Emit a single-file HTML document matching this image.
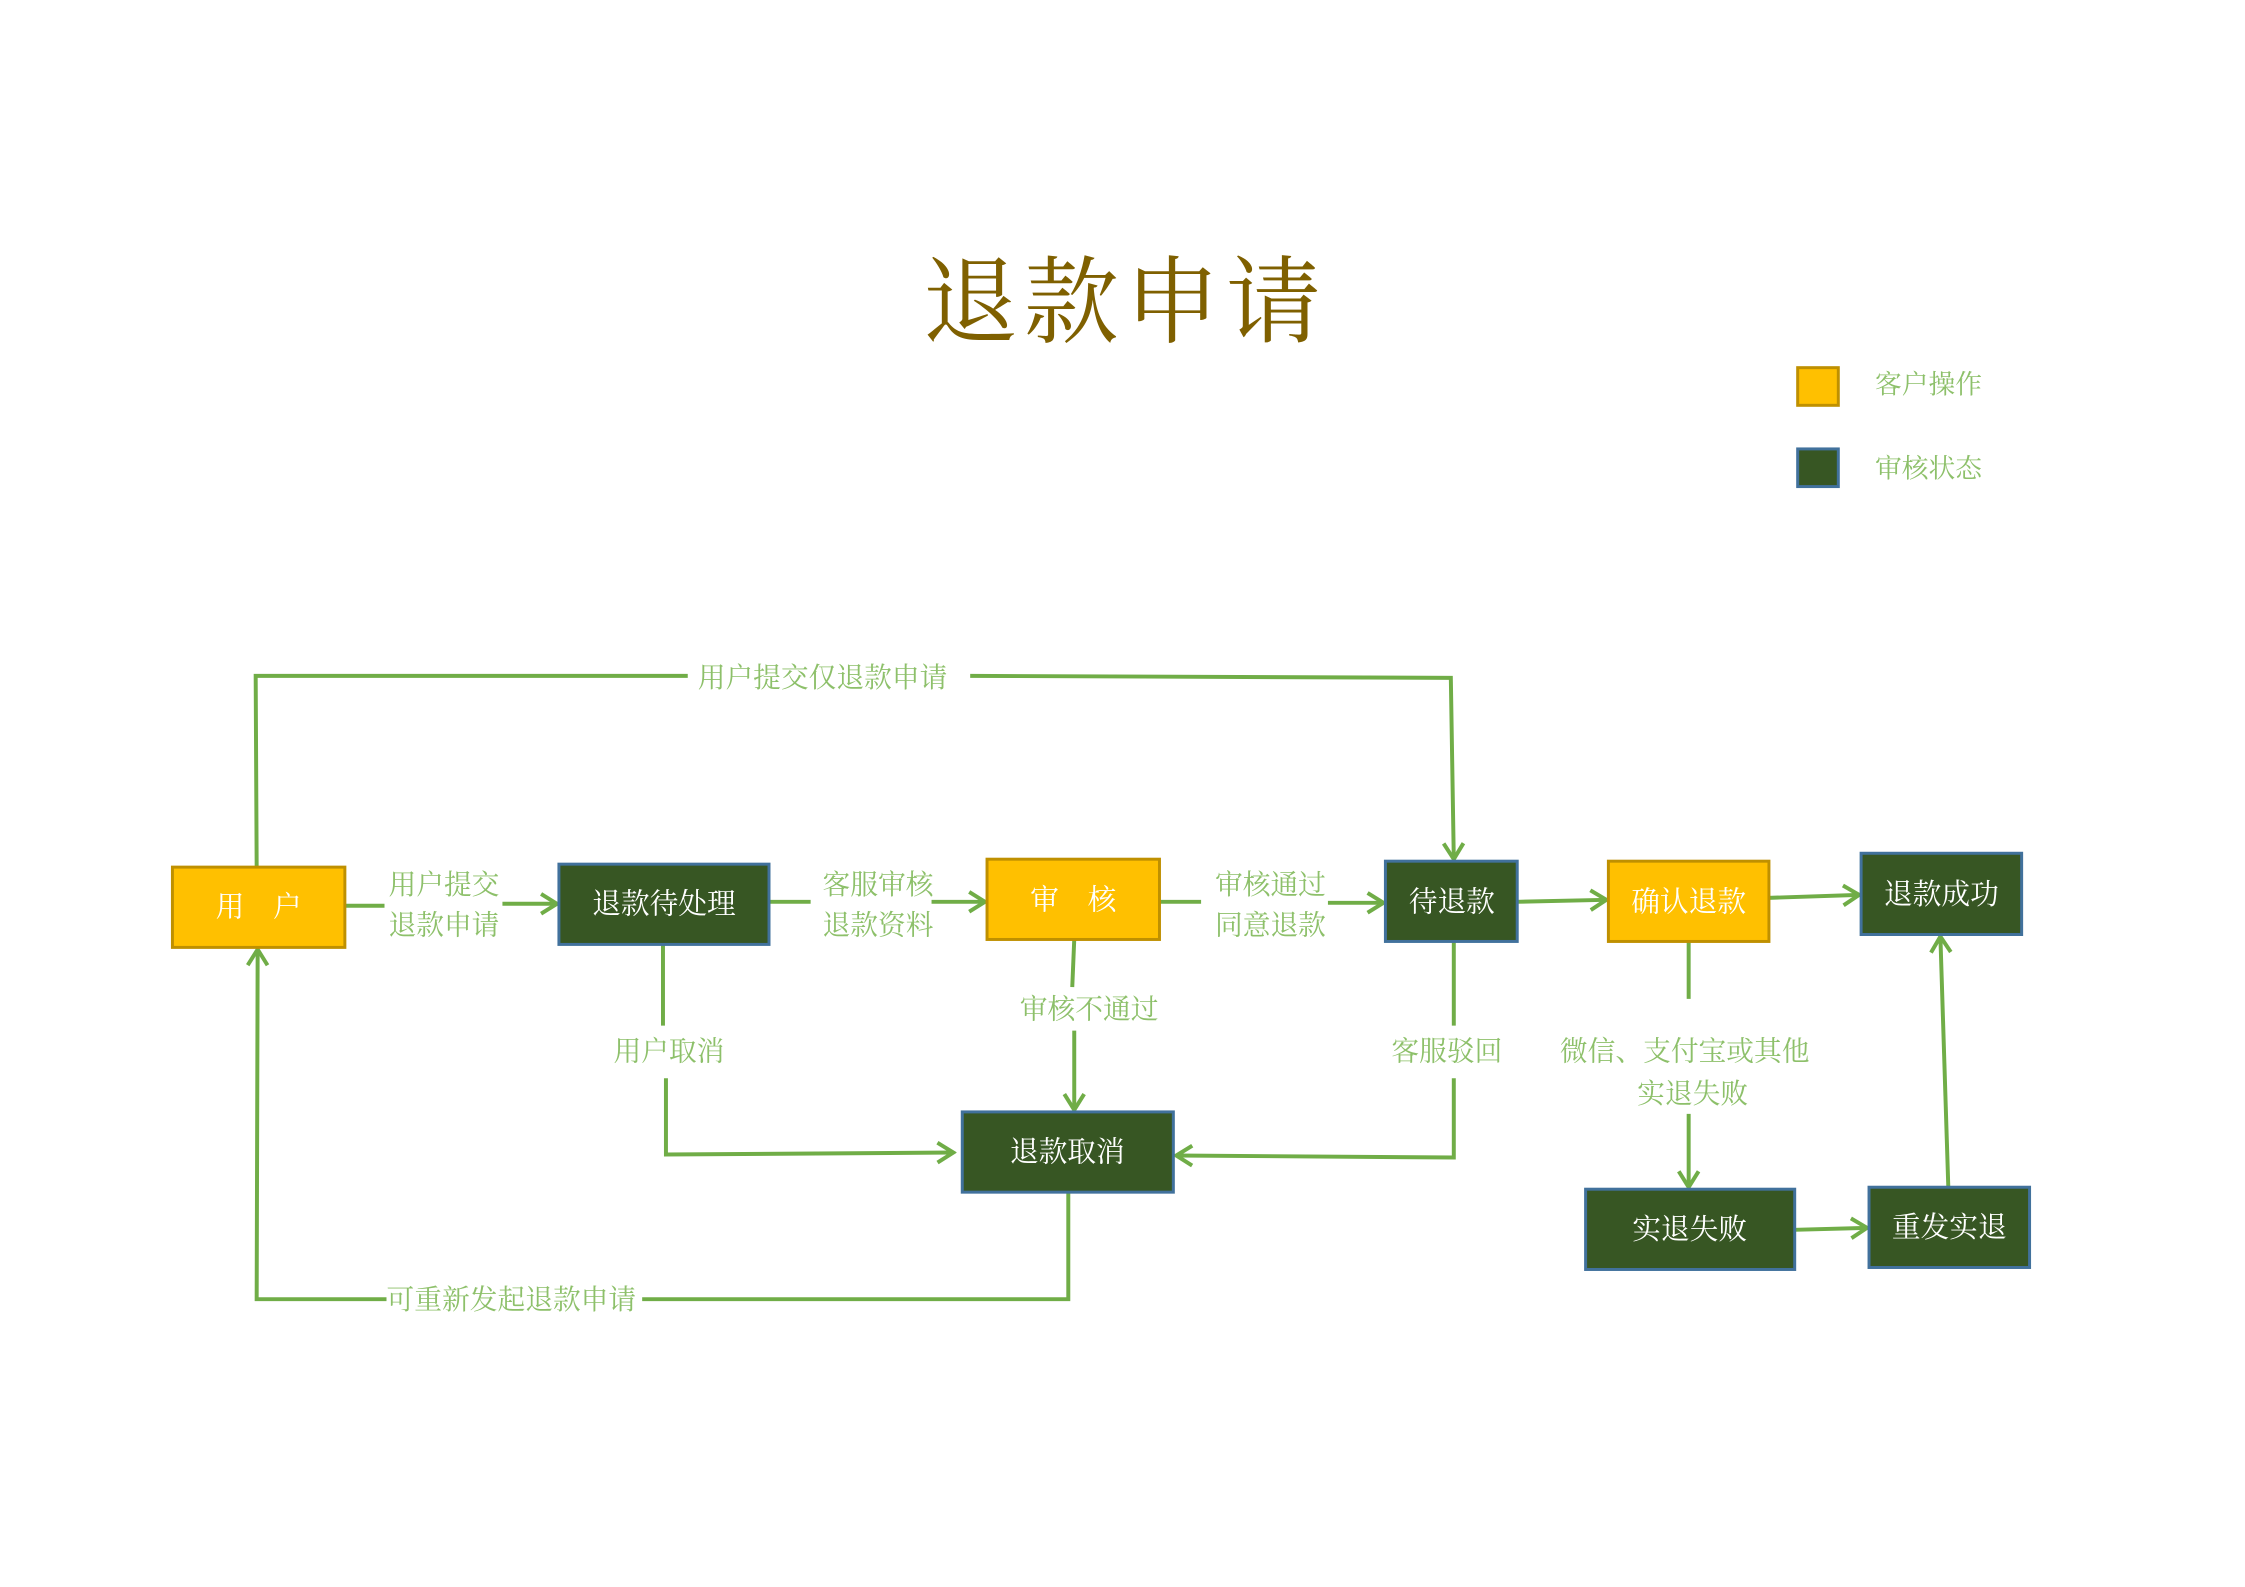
<!DOCTYPE html>
<html><head><meta charset="utf-8"><style>
html,body{margin:0;padding:0;background:#fff}
svg{display:block}
text{font-family:"Liberation Serif","Noto Serif CJK SC",serif}
</style></head><body>
<svg width="2245" height="1587" viewBox="0 0 2245 1587" xmlns="http://www.w3.org/2000/svg">
<defs>
<marker id="a" viewBox="0 0 24 24" refX="21" refY="12" markerWidth="24" markerHeight="24" markerUnits="userSpaceOnUse" orient="auto">
<polyline points="5,2 21,12 5,22" fill="none" stroke="#70AD47" stroke-width="4"/>
</marker>
</defs>
<g transform="scale(0.991)">
<text x="1135" y="338" font-size="96" fill="#7F6000" text-anchor="middle" letter-spacing="6">退款申请</text>
<rect x="1814" y="371" width="41" height="38" fill="#FFC000" stroke="#BF9000" stroke-width="3"/>
<text x="1892" y="397" font-size="27" fill="#8DC06A">客户操作</text>
<rect x="1814" y="453" width="41" height="38" fill="#375623" stroke="#41719C" stroke-width="3"/>
<text x="1892" y="482" font-size="27" fill="#8DC06A">审核状态</text>

<g stroke="#70AD47" stroke-width="4" fill="none">
<polyline points="259,875 258,682 694,682"/>
<polyline points="979,682 1464,684 1467,867" marker-end="url(#a)"/>
<line x1="348" y1="914" x2="388" y2="914"/>
<line x1="507" y1="912" x2="562" y2="912" marker-end="url(#a)"/>
<line x1="776" y1="910" x2="818" y2="910"/>
<line x1="940" y1="910" x2="994" y2="910" marker-end="url(#a)"/>
<line x1="1170" y1="910" x2="1212" y2="910"/>
<line x1="1340" y1="911" x2="1396" y2="911" marker-end="url(#a)"/>
<line x1="1531" y1="910" x2="1621" y2="908" marker-end="url(#a)"/>
<line x1="1785" y1="906" x2="1876" y2="903" marker-end="url(#a)"/>
<line x1="1084" y1="948" x2="1082" y2="996"/>
<line x1="1084" y1="1040" x2="1084" y2="1120" marker-end="url(#a)"/>
<line x1="669" y1="953" x2="669" y2="1035"/>
<polyline points="672,1088 672,1165 962,1163" marker-end="url(#a)"/>
<line x1="1467" y1="950" x2="1467" y2="1035"/>
<polyline points="1467,1088 1467,1168 1187,1166" marker-end="url(#a)"/>
<line x1="1704" y1="950" x2="1704" y2="1008"/>
<line x1="1704" y1="1124" x2="1704" y2="1198" marker-end="url(#a)"/>
<line x1="1811" y1="1241" x2="1884" y2="1239" marker-end="url(#a)"/>
<line x1="1966" y1="1198" x2="1958" y2="945" marker-end="url(#a)"/>
<polyline points="1078,1203 1078,1311 648,1311"/>
<polyline points="390,1311 259,1311 260,958" marker-end="url(#a)"/>
</g>

<g font-size="28" fill="#8DC06A" text-anchor="middle">
<text x="830" y="693">用户提交仅退款申请</text>
<text x="448" y="902">用户提交</text><text x="448" y="943">退款申请</text>
<text x="886" y="902">客服审核</text><text x="886" y="943">退款资料</text>
<text x="1282" y="902">审核通过</text><text x="1282" y="943">同意退款</text>
<text x="1099" y="1028">审核不通过</text>
<text x="675" y="1070">用户取消</text>
<text x="1460" y="1070">客服驳回</text>
<text x="1700" y="1070">微信、支付宝或其他</text>
<text x="1708" y="1113">实退失败</text>
<text x="516" y="1321">可重新发起退款申请</text>
</g>

<g stroke-width="3">
<rect x="174" y="875" width="174" height="81" fill="#FFC000" stroke="#BF9000"/>
<rect x="564" y="872" width="212" height="81" fill="#375623" stroke="#41719C"/>
<rect x="996" y="867" width="174" height="81" fill="#FFC000" stroke="#BF9000"/>
<rect x="1398" y="869" width="133" height="81" fill="#375623" stroke="#41719C"/>
<rect x="1623" y="869" width="162" height="81" fill="#FFC000" stroke="#BF9000"/>
<rect x="1878" y="861" width="162" height="82" fill="#375623" stroke="#41719C"/>
<rect x="971" y="1122" width="213" height="81" fill="#375623" stroke="#41719C"/>
<rect x="1600" y="1200" width="211" height="81" fill="#375623" stroke="#41719C"/>
<rect x="1886" y="1198" width="162" height="81" fill="#375623" stroke="#41719C"/>
</g>
<g font-size="29" fill="#fff" text-anchor="middle">
<text x="261" y="925" xml:space="preserve">用    户</text>
<text x="670" y="922">退款待处理</text>
<text x="1083" y="918" xml:space="preserve">审    核</text>
<text x="1465" y="920">待退款</text>
<text x="1704" y="920">确认退款</text>
<text x="1959" y="912">退款成功</text>
<text x="1077" y="1172">退款取消</text>
<text x="1705" y="1250">实退失败</text>
<text x="1967" y="1248">重发实退</text>
</g>
</g>
</svg>
</body></html>
